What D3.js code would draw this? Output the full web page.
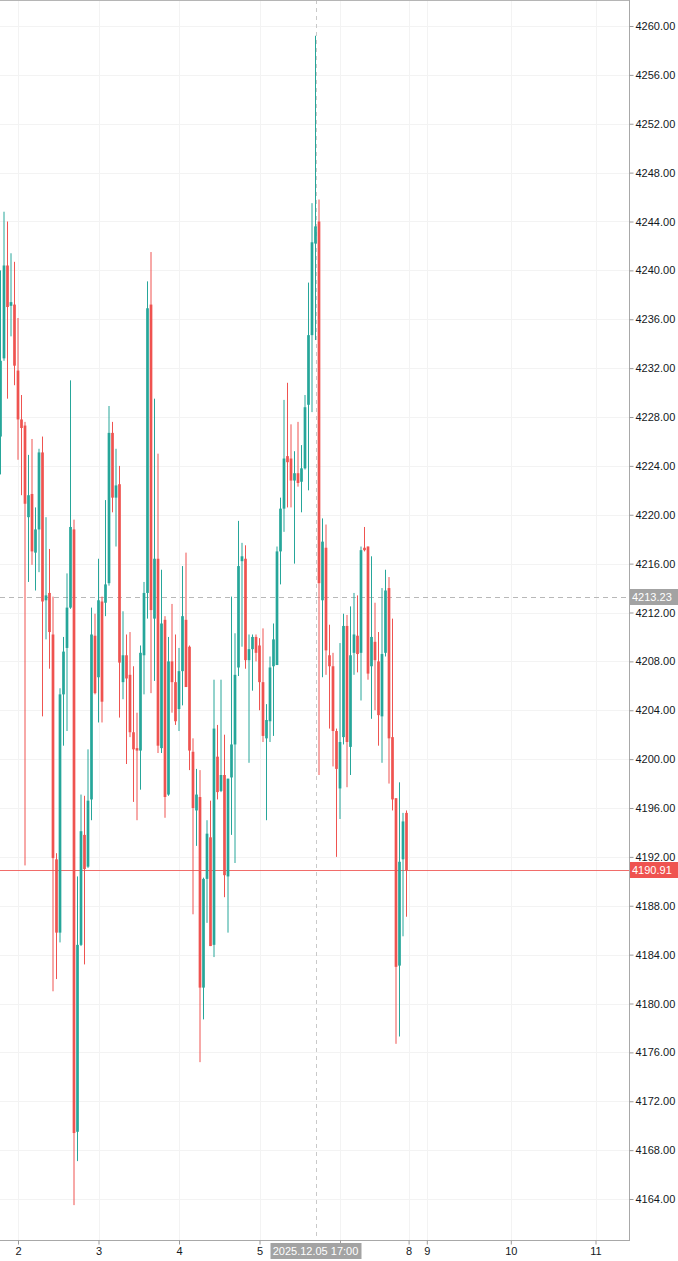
<!doctype html>
<meta charset="utf-8">
<style type="text/css">
  body { margin: 0; background: #fff; }
  svg { display: block; font-family: "Liberation Sans", Arial, sans-serif; }
  .axis text { font-size: 11px; fill: #131722; }
  .axis line { stroke: #9a9a9a; }
</style>
<body>
<script src="https://cdn.jsdelivr.net/npm/d3@7"></script>
<script>

// hourly XAUUSD candles, index 0 = first visible bar
let opens = [4226.4,4232.8,4240.4,4237.1,4237.2,4231.8,4227.8,4227.3,4219.8,4221.7,
  4216.9,4218.8,4225.1,4213.0,4213.6,4210.2,4191.8,4185.8,4205.3,4209.1,
  4212.4,4218.8,4169.5,4184.8,4193.8,4191.2,4196.7,4210.1,4206.7,4212.9,
  4212.8,4214.4,4226.7,4221.4,4222.5,4206.3,4208.5,4206.9,4202.2,4200.9,
  4200.7,4208.5,4213.6,4237.2,4211.5,4216.4,4200.9,4211.4,4197.1,4208.0,
  4206.3,4204.1,4207.2,4211.4,4209.2,4200.6,4195.8,4196.9,4181.3,4190.2,
  4193.6,4184.8,4200.2,4197.4,4198.7,4190.4,4198.5,4201.2,4207.5,4216.2,
  4216.4,4208.1,4209.0,4210.0,4209.3,4206.3,4201.7,4203.1,4207.6,4207.7,
  4217.0,4220.5,4224.8,4224.6,4222.8,4223.4,4222.7,4223.8,4229.0,4234.7,
  4242.2,4244.0,4213.0,4217.3,4208.5,4207.6,4202.3,4197.6,4201.8,4210.9,
  4201.0,4208.7,4210.1,4208.7,4217.3,4217.4,4207.6,4209.6,4208.0,4203.5,
  4208.7,4214.0,4201.8,4196.8,4183.1,4191.8,4195.6];

let highs = [4240.0,4244.8,4244.0,4241.4,4240.7,4236.1,4229.8,4227.6,4224.9,4226.2,
  4220.6,4225.4,4226.4,4219.8,4217.2,4213.3,4192.3,4205.8,4210.0,4215.2,
  4231.0,4219.6,4190.4,4197.1,4197.0,4200.8,4212.4,4211.9,4216.4,4213.3,
  4221.2,4228.9,4227.6,4225.4,4224.0,4212.1,4210.2,4210.4,4207.6,4203.8,
  4209.3,4214.5,4239.1,4241.5,4229.5,4225.0,4215.5,4211.7,4210.0,4212.7,
  4210.2,4209.1,4215.8,4216.9,4209.3,4201.7,4199.2,4199.1,4190.3,4195.0,
  4196.6,4206.5,4202.8,4206.5,4202.0,4198.4,4213.3,4210.3,4219.5,4217.7,
  4217.5,4210.2,4210.2,4210.2,4209.9,4210.7,4204.5,4208.4,4211.1,4217.4,
  4221.4,4229.4,4230.8,4227.4,4225.2,4227.6,4225.7,4229.8,4239.0,4245.5,
  4259.2,4245.8,4219.7,4219.2,4211.0,4208.7,4202.5,4209.5,4211.9,4211.8,
  4212.5,4213.6,4213.4,4217.4,4219.0,4217.4,4216.6,4212.8,4210.4,4214.0,
  4215.5,4214.9,4211.5,4196.8,4198.1,4195.6,4195.8];

let lows = [4223.3,4232.6,4229.5,4234.6,4230.6,4224.5,4221.6,4191.3,4214.5,4215.9,
  4213.8,4215.3,4203.5,4209.8,4207.4,4181.0,4182.0,4185.0,4201.1,4202.3,
  4212.3,4163.5,4167.1,4184.7,4183.2,4191.1,4195.0,4205.3,4203.0,4203.0,
  4211.7,4214.2,4220.2,4217.4,4203.4,4204.9,4199.6,4201.8,4196.5,4195.0,
  4197.5,4205.3,4211.5,4205.4,4206.4,4200.5,4200.5,4195.2,4197.0,4203.8,
  4202.8,4202.3,4204.4,4205.9,4199.1,4187.3,4192.9,4175.2,4178.7,4186.6,
  4184.7,4183.8,4196.7,4197.3,4188.7,4185.8,4193.8,4191.5,4206.8,4209.2,
  4207.4,4199.7,4205.6,4208.0,4204.0,4201.4,4195.0,4201.4,4201.9,4207.7,
  4214.3,4218.6,4220.6,4220.6,4216.0,4222.3,4220.2,4223.7,4222.0,4228.4,
  4234.3,4198.7,4206.7,4206.9,4202.5,4199.4,4192.0,4195.1,4201.2,4197.7,
  4198.7,4206.9,4207.1,4204.8,4217.0,4206.5,4203.3,4204.0,4201.1,4199.7,
  4208.4,4198.0,4195.8,4176.7,4177.3,4185.5,4187.1];

let closes = [4232.6,4240.4,4237.0,4237.4,4232.2,4227.8,4227.1,4220.9,4221.6,4217.0,
  4218.8,4225.1,4212.9,4213.4,4210.4,4191.9,4185.8,4205.3,4208.8,4212.4,
  4219.0,4169.4,4184.8,4194.1,4191.0,4196.6,4210.2,4205.4,4213.0,4204.7,
  4214.3,4226.7,4221.4,4222.4,4207.9,4208.5,4206.6,4202.2,4200.8,4200.7,
  4208.7,4213.6,4236.9,4212.2,4216.4,4201.1,4211.1,4196.9,4208.0,4206.3,
  4203.1,4207.2,4211.7,4205.9,4200.7,4196.0,4197.1,4181.3,4190.2,4193.9,
  4184.7,4202.5,4197.3,4198.7,4190.5,4198.4,4201.2,4206.9,4215.8,4216.6,
  4208.1,4209.0,4210.0,4208.7,4206.3,4201.9,4203.2,4207.5,4209.8,4217.0,
  4220.5,4224.6,4224.3,4222.8,4223.4,4222.6,4223.8,4228.8,4234.7,4242.3,
  4243.6,4214.4,4217.8,4208.9,4207.6,4202.3,4199.2,4201.4,4210.9,4201.4,
  4208.5,4210.2,4208.6,4217.1,4217.1,4207.0,4210.0,4208.1,4203.6,4208.6,
  4213.8,4201.7,4196.7,4183.0,4191.6,4194.9,4190.91];

// time axis: bar index of each day tick and its label ('' = hidden under crosshair label)
let timeTicks  = [5, 28, 51, 74, 97, 116.6, 121.8, 145.8, 170];
let timeLabels = ['2', '3', '4', '5', '', '8', '9', '10', '11'];

let priceTicks = d3.range(4164, 4261, 4);

let crossIndex = 90,            // 2025.12.05 17:00
    crossText  = '2025.12.05 17:00',
    crossPrice = 4213.23,
    lastPrice  = 4190.91;

let width = 678,
    height = 1261,
    plotRight = 629,
    plotBottom = 1240;

let up = '#26a69a',
    down = '#ef5350';

let x = d3.scaleLinear().domain([0, 170]).range([0.5, 595.5]);
let y = d3.scaleLinear().domain([4164, 4260]).range([1199, 26]);

let bars = opens.map((o, i) => ({i: i, o: o, h: highs[i], l: lows[i], c: closes[i]}));

let svg = d3.select('body')
    .append('svg')
    .attr('width', width)
    .attr('height', height);

svg.append('rect').attr('width', width).attr('height', height).attr('fill', '#fff');

// grid
let grid = svg.append('g');
grid.selectAll('.hgrid')
    .data(priceTicks)
  .enter().append('line')
    .attr('x1', 0).attr('x2', plotRight)
    .attr('y1', d => Math.round(y(d)) + 0.5)
    .attr('y2', d => Math.round(y(d)) + 0.5)
    .attr('stroke', '#f3f3f3');
grid.selectAll('.vgrid')
    .data(timeTicks)
  .enter().append('line')
    .attr('x1', d => Math.round(x(d)) + 0.5)
    .attr('x2', d => Math.round(x(d)) + 0.5)
    .attr('y1', 0).attr('y2', plotBottom)
    .attr('stroke', '#f3f3f3');

// crosshair and price lines
svg.append('line')
    .attr('x1', Math.round(x(crossIndex)) + 0.5).attr('x2', Math.round(x(crossIndex)) + 0.5)
    .attr('y1', 0).attr('y2', plotBottom)
    .attr('stroke', '#c9c9c9').attr('stroke-dasharray', '4,4');
svg.append('line')
    .attr('x1', 0).attr('x2', plotRight)
    .attr('y1', Math.round(y(crossPrice)) + 0.5).attr('y2', Math.round(y(crossPrice)) + 0.5)
    .attr('stroke', '#b8b8b8').attr('stroke-dasharray', '5,4');
svg.append('line')
    .attr('x1', 0).attr('x2', plotRight)
    .attr('y1', Math.round(y(lastPrice)) + 0.5).attr('y2', Math.round(y(lastPrice)) + 0.5)
    .attr('stroke', down).attr('stroke-opacity', 0.85);

// candles
let candles = svg.append('g')
    .selectAll('.candle')
    .data(bars)
  .enter().append('g');

candles.append('line')
    .attr('x1', d => x(d.i)).attr('x2', d => x(d.i))
    .attr('y1', d => y(d.h)).attr('y2', d => y(d.l))
    .attr('stroke', d => d.c >= d.o ? up : down)
    .attr('stroke-width', 1);

candles.append('rect')
    .attr('x', d => x(d.i) - 1.35)
    .attr('width', 2.7)
    .attr('y', d => y(Math.max(d.o, d.c)))
    .attr('height', d => Math.max(1, Math.abs(y(d.o) - y(d.c))))
    .attr('fill', d => d.c >= d.o ? up : down);

// frame
svg.append('line').attr('x1', 0).attr('x2', plotRight).attr('y1', 0.5).attr('y2', 0.5)
    .attr('stroke', '#b5b5b5');
svg.append('line').attr('x1', plotRight + 0.5).attr('x2', plotRight + 0.5).attr('y1', 0).attr('y2', plotBottom)
    .attr('stroke', '#a8a8a8');
svg.append('line').attr('x1', 0).attr('x2', plotRight + 1).attr('y1', plotBottom + 0.5).attr('y2', plotBottom + 0.5)
    .attr('stroke', '#a8a8a8');

// price axis
let yAxis = svg.append('g')
    .attr('class', 'axis')
    .attr('transform', 'translate(' + (plotRight + 0.5) + ',0)')
    .call(d3.axisRight(y).tickValues(priceTicks).tickSize(4).tickPadding(2).tickFormat(d3.format('.2f')));
yAxis.select('.domain').remove();

// time axis
let xAxis = svg.append('g')
    .attr('class', 'axis')
    .attr('transform', 'translate(0,' + (plotBottom + 0.5) + ')')
    .call(d3.axisBottom(x).tickValues(timeTicks).tickSize(4).tickPadding(3)
      .tickFormat((d, i) => timeLabels[i]));
xAxis.select('.domain').remove();

// price labels on the scale
function priceTag(p, fill) {
  let yy = Math.round(y(p));
  svg.append('rect')
      .attr('x', plotRight + 1).attr('y', yy - 8)
      .attr('width', width - plotRight - 1).attr('height', 16)
      .attr('fill', fill);
  svg.append('text')
      .attr('x', plotRight + 3).attr('y', yy + 4)
      .attr('font-size', 11).attr('fill', '#fff')
      .text(d3.format('.2f')(p));
}
priceTag(crossPrice, '#a3a3a3');
priceTag(lastPrice, down);

// crosshair time label
let cx = x(crossIndex);
svg.append('rect')
    .attr('x', cx - 45).attr('y', plotBottom + 3)
    .attr('width', 91).attr('height', 16)
    .attr('fill', '#a3a3a3');
svg.append('text')
    .attr('x', cx).attr('y', plotBottom + 15)
    .attr('text-anchor', 'middle')
    .attr('font-size', 11).attr('fill', '#fff')
    .text(crossText);

</script>
